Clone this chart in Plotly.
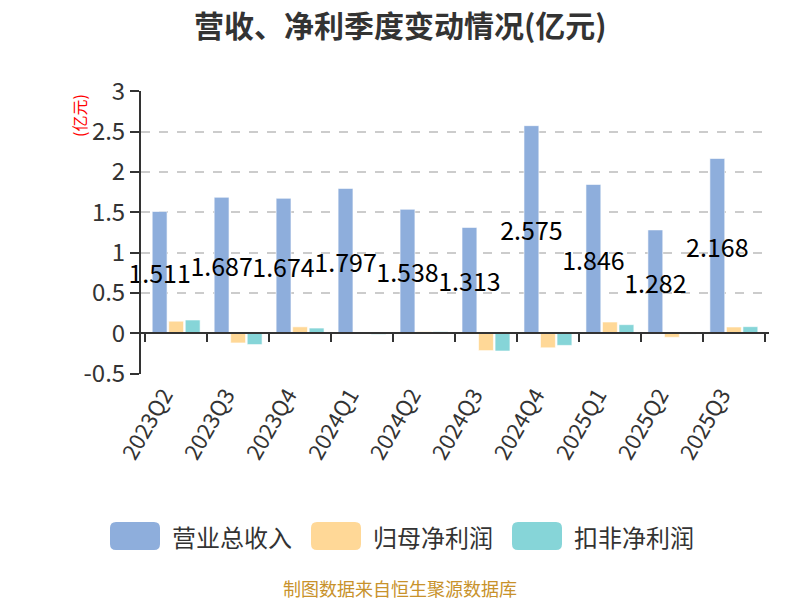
import plotly.graph_objects as go

categories = ["2023Q2", "2023Q3", "2023Q4", "2024Q1", "2024Q2",
              "2024Q3", "2024Q4", "2025Q1", "2025Q2", "2025Q3"]
revenue = [1.511, 1.687, 1.674, 1.797, 1.538, 1.313, 2.575, 1.846, 1.282, 2.168]
net_profit = [0.15, -0.12, 0.08, 0.005, 0.02, -0.215, -0.18, 0.14, -0.05, 0.078]
net_profit_deducted = [0.165, -0.14, 0.065, -0.015, 0.02, -0.22, -0.15, 0.107, -0.01, 0.082]
series_names = ["营业总收入", "归母净利润", "扣非净利润"]
y_ticks = [-0.5, 0, 0.5, 1, 1.5, 2, 2.5, 3]

FONT = "Noto Sans CJK SC, Noto Sans, sans-serif"
colors = ["#8EAEDC", "#FFD897", "#86D5D8"]
series_values = [revenue, net_profit, net_profit_deducted]

# plot-area geometry (pixels)
W, H = 800, 600
L, R, T, B = 141, 31, 91, 226
PW, PH = W - L - R, H - T - B


def px_x(p):
    return (p - L) / PW


def px_y(p):
    return (H - B - p) / PH


fig = go.Figure()
for i, (name, vals) in enumerate(zip(series_names, series_values)):
    kw = {}
    if i == 0:
        kw = dict(text=[f"{v:g}" for v in vals], textposition="inside",
                  insidetextanchor="middle", constraintext="none", textangle=0,
                  textfont=dict(color="#000000", size=25, family=FONT),
                  cliponaxis=False)
    fig.add_trace(go.Bar(
        x=categories, y=vals, name=name, showlegend=False,
        marker=dict(color=colors[i], line=dict(color="rgba(255,255,255,0.6)", width=1)),
        **kw,
    ))

# helper trace so the zero-level axis (with boundary ticks) is drawn
fig.add_trace(go.Scatter(
    x=categories, y=[None] * len(categories), xaxis="x2",
    showlegend=False, hoverinfo="skip", mode="markers",
))

y_range = [y_ticks[0] - 0.005, y_ticks[-1] + 0.005]
zero_pos = (0 - y_range[0]) / (y_range[1] - y_range[0])


def rounded_rect(w, h, r):
    x0, x1, y0, y1 = -w / 2, w / 2, -h / 2, h / 2
    return (f"M{x0 + r},{y0} L{x1 - r},{y0} Q{x1},{y0} {x1},{y0 + r} "
            f"L{x1},{y1 - r} Q{x1},{y1} {x1 - r},{y1} L{x0 + r},{y1} "
            f"Q{x0},{y1} {x0},{y1 - r} L{x0},{y0 + r} Q{x0},{y0} {x0 + r},{y0} Z")


shapes = []
annotations = []
legend_swatch_centers = [135, 336, 537]
legend_y = 536
for i, name in enumerate(series_names):
    cx = legend_swatch_centers[i]
    shapes.append(dict(
        type="path", xref="paper", yref="paper", xsizemode="pixel", ysizemode="pixel",
        xanchor=px_x(cx), yanchor=px_y(legend_y), path=rounded_rect(50, 28, 6),
        fillcolor=colors[i], line=dict(width=0), layer="above",
    ))
    annotations.append(dict(
        text=name, xref="paper", yref="paper", x=px_x(cx + 35), y=px_y(legend_y),
        xanchor="left", yanchor="middle", showarrow=False,
        font=dict(size=24, color="#333333", family=FONT),
    ))

annotations.append(dict(
    text="(亿元)", xref="paper", yref="paper", x=px_x(79), y=px_y(116),
    xanchor="center", yanchor="middle", showarrow=False, textangle=-90,
    font=dict(size=16, color="#FF0000", family=FONT),
))
annotations.append(dict(
    text="制图数据来自恒生聚源数据库", xref="paper", yref="paper",
    x=px_x(400), y=px_y(588), xanchor="center", yanchor="middle", showarrow=False,
    font=dict(size=18, color="#C8922B", family=FONT),
))
annotations.append(dict(
    text="<b>营收、净利季度变动情况(亿元)</b>", xref="paper", yref="paper",
    x=px_x(400), y=px_y(24), xanchor="center", yanchor="middle", showarrow=False,
    font=dict(size=30, color="#333333", family=FONT),
))

fig.update_layout(
    width=W, height=H,
    paper_bgcolor="white", plot_bgcolor="white",
    font=dict(family=FONT, color="#333333"),
    margin=dict(l=L, r=R, t=T, b=B, autoexpand=False),
    barmode="group", bargap=0.2, bargroupgap=0.1,
    showlegend=False,
    xaxis=dict(
        type="category", showline=False, ticks="", showgrid=False,
        tickangle=-60, tickfont=dict(size=22, color="#333333", family=FONT),
        zeroline=False, automargin=False, ticklabelstandoff=3, ticklabelshift=-12,
    ),
    xaxis2=dict(
        type="category", matches="x", overlaying="x", anchor="free", position=zero_pos,
        showline=True, linecolor="#333333", linewidth=2,
        ticks="outside", tickson="boundaries", ticklen=8, tickwidth=2, tickcolor="#333333",
        showticklabels=False, showgrid=False, zeroline=False, automargin=False,
    ),
    yaxis=dict(
        range=y_range, tickvals=y_ticks,
        ticktext=[f"{v:g}" for v in y_ticks],
        showline=True, linecolor="#333333", linewidth=2,
        ticks="outside", ticklen=9, tickwidth=2, tickcolor="#333333",
        showgrid=True, gridcolor="#CCCCCC", griddash="dash", gridwidth=1.5,
        zeroline=False, automargin=False,
        tickfont=dict(size=24, color="#333333", family=FONT),
    ),
    shapes=shapes,
    annotations=annotations,
)

fig.write_html("out.html", config={"displayModeBar": False},
               post_script="document.body.style.margin='0';")
